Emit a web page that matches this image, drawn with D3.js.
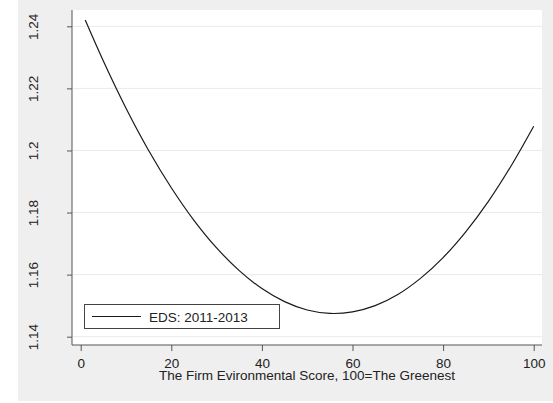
<!DOCTYPE html>
<html>
<head>
<meta charset="utf-8">
<script src="https://cdn.jsdelivr.net/npm/d3@7"></script>
<style>
  body { margin: 0; background: #fff; }
  svg { display: block; font-family: "Liberation Sans", Arial, sans-serif; }
</style>
</head>
<body>
<script>
// Values
let xValues = [1, 5, 10, 15, 20, 25, 30, 35, 40, 45, 50, 55, 60, 65, 70, 75, 80, 85, 90, 95, 100];
let edsValues = [1.242, 1.2288, 1.2136, 1.2000, 1.1880, 1.1775, 1.1686, 1.1613, 1.1555, 1.1513,
                 1.1486, 1.1475, 1.1480, 1.1500, 1.1536, 1.1588, 1.1655, 1.1738, 1.1836, 1.1950, 1.2078];
let seriesName = "EDS: 2011-2013";
let xTicks = [0, 20, 40, 60, 80, 100];
let yTicks = [1.14, 1.16, 1.18, 1.2, 1.22, 1.24];
let xTitle = "The Firm Evironmental Score, 100=The Greenest";

let svgWidth = 553;
let svgHeight = 403;
let fontSize = 13.5;

let svg = d3.select("body")
  .append("svg")
  .attr("width", svgWidth)
  .attr("height", svgHeight);

// graph region (grey) and plot region (white)
svg.append("rect")
  .attr("x", 18).attr("y", 0)
  .attr("width", svgWidth - 18).attr("height", 401)
  .attr("fill", "#efefef");

let plot = { left: 72, right: 542, top: 10, bottom: 345 };

svg.append("rect")
  .attr("x", plot.left).attr("y", plot.top)
  .attr("width", plot.right - plot.left)
  .attr("height", plot.bottom - plot.top)
  .attr("fill", "#fff");

let xScale = d3.scaleLinear().domain([0, 100]).range([80.7, 533.7]);
let yScale = d3.scaleLinear().domain([1.14, 1.24]).range([336.7, 26.3]);

// gridlines
svg.append("g")
  .selectAll("line")
  .data(yTicks)
  .enter()
  .append("line")
  .attr("x1", plot.left + 1)
  .attr("x2", plot.right)
  .attr("y1", d => yScale(d))
  .attr("y2", d => yScale(d))
  .attr("stroke", "#eaeaea")
  .attr("stroke-width", 1);

// y axis
let yAxis = d3.axisLeft(yScale)
  .tickValues(yTicks)
  .tickSize(5)
  .tickFormat(d3.format("~g"));

let yG = svg.append("g")
  .attr("transform", `translate(${plot.left}, 0)`)
  .call(yAxis);

yG.select(".domain")
  .attr("d", `M0,${plot.top}V${plot.bottom}`)
  .attr("stroke", "#555");
yG.selectAll(".tick line").attr("stroke", "#555");
yG.selectAll(".tick text")
  .attr("x", null).attr("dy", null)
  .attr("text-anchor", "middle")
  .attr("transform", "translate(-34, 0) rotate(-90)")
  .attr("font-size", fontSize)
  .attr("fill", "#222");

// x axis
let xAxis = d3.axisBottom(xScale)
  .tickValues(xTicks)
  .tickSize(6)
  .tickFormat(d3.format("d"));

let xG = svg.append("g")
  .attr("transform", `translate(0, ${plot.bottom})`)
  .call(xAxis);

xG.select(".domain")
  .attr("d", `M${plot.left},0H${plot.right}`)
  .attr("stroke", "#555");
xG.selectAll(".tick line").attr("stroke", "#555");
xG.selectAll(".tick text")
  .attr("y", 22.5).attr("dy", null)
  .attr("font-size", fontSize)
  .attr("fill", "#222");

svg.append("text")
  .attr("x", (plot.left + plot.right) / 2)
  .attr("y", 380)
  .attr("text-anchor", "middle")
  .attr("font-size", fontSize)
  .attr("fill", "#222")
  .text(xTitle);

// the fitted line
let series = xValues.map((x, i) => ({ x: x, y: edsValues[i] }));

let line = d3.line()
  .x(d => xScale(d.x))
  .y(d => yScale(d.y))
  .curve(d3.curveCatmullRom);

svg.append("path")
  .datum(series)
  .attr("d", line)
  .attr("fill", "none")
  .attr("stroke", "#1a1a1a")
  .attr("stroke-width", 1.2);

// legend
let legend = svg.append("g");

legend.append("rect")
  .attr("x", 84.5).attr("y", 304.5)
  .attr("width", 195).attr("height", 24)
  .attr("fill", "#fff")
  .attr("stroke", "#444")
  .attr("stroke-width", 1);

legend.append("line")
  .attr("x1", 92).attr("x2", 141)
  .attr("y1", 316.5).attr("y2", 316.5)
  .attr("stroke", "#1a1a1a")
  .attr("stroke-width", 1.2);

legend.append("text")
  .attr("x", 149)
  .attr("y", 321.5)
  .attr("font-size", fontSize)
  .attr("fill", "#222")
  .text(seriesName);
</script>
</body>
</html>
